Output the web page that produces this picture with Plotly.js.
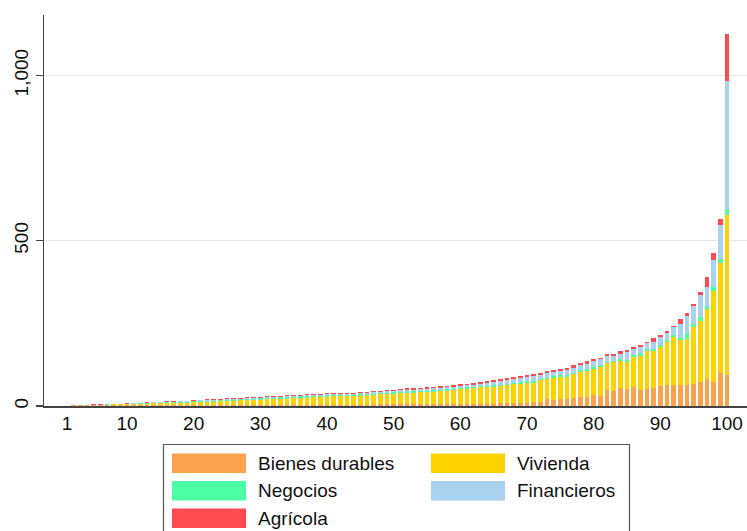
<!DOCTYPE html>
<html>
<head>
<meta charset="utf-8">
<script src="https://cdn.plot.ly/plotly-3.0.1.min.js"></script>
<style>
  html, body { margin: 0; padding: 0; background: #fff; }
  #chart { width: 747px; height: 531px; }
</style>
</head>
<body>
<div id="chart"></div>
<script>
// Percentiles 1..100 on the x axis
const percentiles = Array.from({ length: 100 }, (_, i) => i + 1);

// Component values per percentile (stacked bottom to top)
const bienesDurables = [
  1, 2, 2, 3, 3, 3, 3, 3, 3, 3,
  3, 3, 3, 3, 3, 3, 3, 3, 3, 3,
  3, 3, 3, 3, 3, 3, 3, 3, 3, 3,
  3, 3, 3, 3, 3, 4, 4, 4, 4, 4,
  4, 4, 4, 4, 4, 4, 4, 5, 5, 5,
  5, 6, 6, 6, 6, 6, 6, 6, 6, 6,
  6, 7, 7, 7, 7, 8, 8, 8, 9, 8,
  13, 13, 20, 19, 20, 21, 23, 28, 28, 33,
  31, 48, 46, 54, 51, 57, 48, 51, 54, 61,
  64, 64, 64, 64, 67, 74, 82, 74, 101, 94
];
const vivienda = [
  0, 0, 0, 0, 1, 1, 1, 2, 2, 2,
  3, 3, 4, 5, 5, 6, 6, 7, 7, 8,
  9, 9, 10, 11, 12, 13, 14, 15, 15, 16,
  17, 18, 19, 19, 20, 21, 21, 22, 23, 24,
  25, 25, 26, 26, 27, 28, 29, 30, 31, 32,
  33, 34, 34, 35, 36, 37, 39, 40, 42, 44,
  46, 47, 49, 50, 52, 52, 55, 58, 59, 62,
  58, 65, 61, 66, 69, 68, 73, 75, 78, 79,
  88, 81, 86, 81, 81, 90, 104, 114, 111, 117,
  130, 144, 137, 140, 171, 184, 210, 275, 331, 484
];
const negocios = [
  0, 0, 0, 0, 0, 0, 1, 0, 1, 1,
  1, 2, 2, 2, 2, 2, 3, 3, 3, 3,
  3, 3, 3, 3, 3, 3, 3, 3, 3, 4,
  4, 4, 4, 4, 4, 4, 4, 4, 4, 4,
  4, 4, 4, 4, 4, 4, 4, 4, 4, 4,
  4, 4, 4, 4, 4, 4, 4, 4, 4, 4,
  4, 4, 4, 4, 4, 5, 5, 5, 5, 5,
  5, 5, 5, 5, 5, 5, 5, 5, 5, 5,
  6, 5, 4, 6, 7, 7, 7, 6, 6, 7,
  6, 7, 6, 16, 10, 10, 11, 12, 13, 17
];
const financieros = [
  0, 0, 0, 0, 0, 0, 0, 0, 0, 1,
  1, 1, 1, 1, 1, 1, 1, 1, 1, 2,
  2, 2, 2, 2, 2, 2, 2, 2, 3, 2,
  2, 2, 2, 3, 3, 2, 3, 3, 3, 3,
  3, 3, 3, 3, 3, 3, 4, 4, 4, 4,
  5, 5, 5, 6, 6, 6, 6, 7, 7, 7,
  7, 7, 8, 9, 10, 10, 11, 11, 12, 13,
  14, 12, 13, 12, 13, 15, 15, 15, 17, 20,
  16, 18, 16, 16, 25, 17, 19, 19, 23, 25,
  20, 23, 41, 52, 54, 68, 58, 81, 103, 388
];
const agricola = [
  0, 0, 1, 1, 1, 1, 1, 1, 1, 1,
  1, 1, 1, 1, 2, 2, 2, 2, 2, 2,
  2, 3, 3, 3, 3, 3, 3, 3, 3, 3,
  3, 3, 3, 3, 3, 3, 3, 3, 3, 3,
  3, 3, 3, 3, 4, 4, 3, 3, 3, 4,
  4, 4, 5, 4, 4, 5, 5, 5, 5, 5,
  5, 5, 5, 5, 5, 6, 5, 6, 6, 6,
  7, 6, 6, 6, 5, 7, 7, 6, 7, 4,
  4, 4, 5, 8, 6, 7, 7, 5, 11, 6,
  8, 5, 15, 10, 6, 10, 30, 20, 17, 142
];

const seriesNames = ['Bienes durables', 'Vivienda', 'Negocios', 'Financieros', 'Agrícola'];
const seriesColors = ['#FCA24E', '#FFD300', '#4DFFA4', '#A8D2F0', '#FF4B4F'];
const seriesValues = [bienesDurables, vivienda, negocios, financieros, agricola];

const xTickVals = [1, 10, 20, 30, 40, 50, 60, 70, 80, 90, 100];
const yTickVals = [0, 500, 1000];
const yTickText = ['0', '500', '1,000'];

const FONT = '"Liberation Sans", Arial, sans-serif';

const traces = seriesNames.map((name, i) => ({
  type: 'bar',
  name: name,
  x: percentiles,
  y: seriesValues[i],
  marker: { color: seriesColors[i], line: { width: 0 } },
  showlegend: false,
  hoverinfo: 'x+y+name'
}));

// Plot-area geometry in pixels, used to place the custom legend box
const W = 747, H = 531;
const M = { l: 44, r: 0, t: 15, b: 125 };
const plotW = W - M.l - M.r, plotH = H - M.t - M.b;
const px = v => (v - M.l) / plotW;
const py = v => (H - M.b - v) / plotH;

const shapes = [];
const annotations = [];

// Legend frame
shapes.push({
  type: 'rect', xref: 'paper', yref: 'paper',
  x0: px(163.5), x1: px(629.5), y0: py(540), y1: py(444.5),
  line: { color: '#555', width: 1.2 }, fillcolor: 'rgba(0,0,0,0)', layer: 'above'
});

// Legend entries: two columns, filled row by row
const colSwatchX = [172, 431];
const rowTop = [453.5, 481, 508.5];
const swW = 74, swH = 19.5;
seriesNames.forEach((name, i) => {
  const col = i % 2, row = Math.floor(i / 2);
  const x0 = colSwatchX[col], y0 = rowTop[row];
  shapes.push({
    type: 'rect', xref: 'paper', yref: 'paper',
    x0: px(x0), x1: px(x0 + swW), y0: py(y0 + swH), y1: py(y0),
    line: { width: 0 }, fillcolor: seriesColors[i], layer: 'above'
  });
  annotations.push({
    xref: 'paper', yref: 'paper',
    x: px(x0 + swW + 10), y: py(y0 + swH / 2),
    xanchor: 'left', yanchor: 'middle', showarrow: false,
    text: name, font: { family: FONT, size: 19, color: '#111' }
  });
});

const layout = {
  width: W, height: H,
  margin: M,
  paper_bgcolor: '#fff', plot_bgcolor: '#fff',
  barmode: 'stack', bargap: 0.3,
  font: { family: FONT, size: 19, color: '#111' },
  xaxis: {
    range: [-2.45, 103],
    tickmode: 'array', tickvals: xTickVals,
    ticks: '', showgrid: false, zeroline: false,
    showline: true, linecolor: '#444', linewidth: 1.5,
    tickfont: { family: FONT, size: 19, color: '#111' }
  },
  yaxis: {
    range: [0, 1183],
    tickmode: 'array', tickvals: yTickVals, ticktext: yTickText,
    tickangle: -90,
    ticks: 'outside', ticklen: 7, tickwidth: 1.5, tickcolor: '#444',
    showgrid: true, gridcolor: '#E8E8E8', gridwidth: 1.5,
    zeroline: false,
    showline: true, linecolor: '#444', linewidth: 1.5,
    tickfont: { family: FONT, size: 19, color: '#111' }
  },
  shapes: shapes,
  annotations: annotations
};

Plotly.newPlot('chart', traces, layout, { displayModeBar: false, staticPlot: true });
</script>
</body>
</html>
